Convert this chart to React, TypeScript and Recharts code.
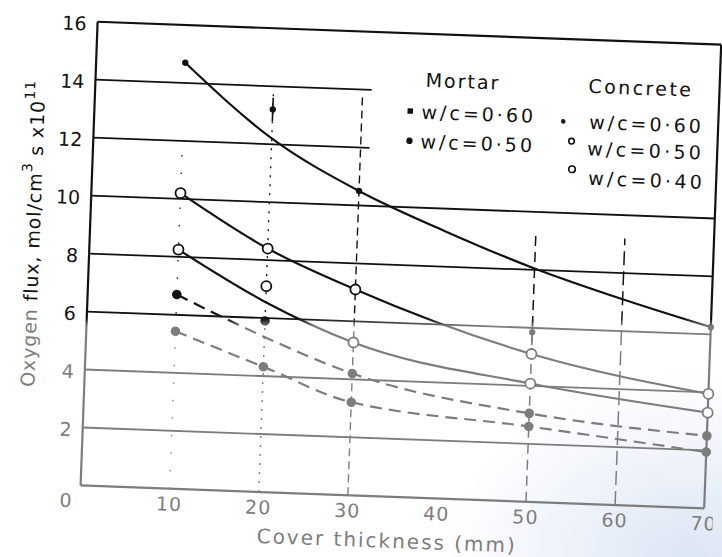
import React from 'react';
import { ComposedChart, Line, Scatter, XAxis, YAxis, ReferenceLine, ErrorBar } from 'recharts';

const INK = '#111111';
const GREY = '#7d7d7d';
const FONT = '"DejaVu Sans", Verdana, sans-serif';

// axes
const xTicks = [0, 10, 20, 30, 40, 50, 60, 70];
const yTicks = [2, 4, 6, 8, 10, 12, 14, 16];
const fullGrid = [2, 4, 6, 8, 10];
const shortGrid = [12, 14];

// Concrete w/c = 0.60 (solid curve, small filled dots)
const c60LineX = [10, 20, 30, 40, 50, 60, 70];
const c60LineY = [14.7, 12.2, 10.5, 9.2, 8.05, 7.1, 6.25];
const c60PtsX = [10, 20, 30, 50, 70];
const c60PtsY = [14.7, 13.2, 10.5, 5.85, 6.25];
const c60PtsErr = [0, 0.4, 0, 0.45, 0];

// Concrete w/c = 0.50 (solid curve, open circles)
const c50X = [10, 20, 30, 50, 70];
const c50Y = [10.2, 8.4, 7.1, 5.1, 3.95];

// Concrete w/c = 0.40 (solid curve, open circles)
const c40X = [10, 20, 30, 50, 70];
const c40LineY = [8.25, 6.55, 5.27, 4.08, 3.3];
const c40PtsY = [8.25, 7.1, 5.27, 4.08, 3.3];

// Mortar w/c = 0.60 (dashed curve, filled)
const m60X = [10, 20, 30, 50, 70];
const m60LineY = [6.7, 5.35, 4.2, 3.05, 2.5];
const m60PtsY = [6.7, 5.9, 4.2, 3.05, 2.5];

// Mortar w/c = 0.50 (dashed curve, filled)
const m50X = [10, 20, 30, 50, 70];
const m50Y = [5.43, 4.32, 3.21, 2.6, 1.94];

const pts = (xs: number[], ys: number[], es?: number[]) =>
  xs.map((x, i) => ({ x, y: ys[i], err: es ? es[i] : 0 }));

const FADE = 'url(#fade)';

const SmallDot = (p: any) => <circle cx={p.cx} cy={p.cy} r={3.2} fill={FADE} />;
const OpenDot = (p: any) => <circle cx={p.cx} cy={p.cy} r={5} fill="#fff" stroke={FADE} strokeWidth={1.8} />;
const FillDot = (p: any) => <circle cx={p.cx} cy={p.cy} r={4.8} fill={FADE} />;

const XTick = (p: any) => (
  <text
    x={p.x + (p.payload.value === 0 ? -14 : 0)}
    y={p.y}
    dy={14}
    textAnchor="middle"
    fill={GREY}
    fontSize={19}
    fontFamily={FONT}
    letterSpacing={1}
  >
    {p.payload.value}
  </text>
);

const YTick = (p: any) => (
  <text
    x={p.x - 3}
    y={p.y}
    dy={9}
    textAnchor="end"
    fill={p.payload.value <= 4 ? GREY : INK}
    fontSize={19}
    fontFamily={FONT}
  >
    {p.payload.value}
  </text>
);

const txt = { fontFamily: FONT, fontSize: 19, fill: INK };

export default function App() {
  return (
    <div
      style={{
        position: 'absolute',
        left: 0,
        top: 0,
        width: 722,
        height: 557,
        overflow: 'hidden',
        background:
          'radial-gradient(ellipse 250px 190px at 690px 560px, rgba(205,218,240,0.7), rgba(225,233,246,0.45) 60%, rgba(255,255,255,0) 100%), #fff',
      }}
    >
      <div
        style={{
          position: 'absolute',
          left: 0,
          top: 0,
          width: 722,
          height: 557,
          transform: 'rotate(2.1deg)',
          transformOrigin: '400px 262px',
        }}
      >
        <ComposedChart width={722} height={557} margin={{ top: 33, right: 9, bottom: 30, left: 29 }}>
          <defs>
            <linearGradient
              id="fade"
              gradientUnits="userSpaceOnUse"
              x1="0"
              y1="0"
              x2="0"
              y2="557"
              gradientTransform="rotate(-2.1 400 262)"
            >
              <stop offset="0" stopColor={INK} />
              <stop offset="0.572" stopColor={INK} />
              <stop offset="0.586" stopColor={GREY} />
              <stop offset="1" stopColor={GREY} />
            </linearGradient>
          </defs>
          <XAxis
            type="number"
            dataKey="x"
            domain={[0, 70]}
            ticks={xTicks}
            tick={XTick}
            tickLine={false}
            axisLine={{ stroke: GREY, strokeWidth: 2.2 }}
            height={30}
            allowDuplicatedCategory={false}
          />
          <YAxis
            type="number"
            domain={[0, 16]}
            ticks={yTicks}
            tick={YTick}
            tickLine={false}
            axisLine={{ stroke: FADE, strokeWidth: 2.2 }}
            width={60}
          />
          {fullGrid.map((v) => (
            <ReferenceLine key={'h' + v} y={v} stroke={FADE} strokeWidth={1.8} />
          ))}
          {shortGrid.map((v) => (
            <ReferenceLine
              key={'s' + v}
              segment={[
                { x: 0, y: v },
                { x: 31, y: v },
              ]}
              stroke={FADE}
              strokeWidth={1.8}
            />
          ))}
          <ReferenceLine y={16} stroke={INK} strokeWidth={2.2} />
          <ReferenceLine x={70} stroke={FADE} strokeWidth={2.2} />
          <ReferenceLine segment={[{ x: 10, y: 0 }, { x: 10, y: 11.6 }]} stroke={FADE} strokeWidth={1.3} strokeDasharray="1.5 16" />
          <ReferenceLine segment={[{ x: 20, y: 0 }, { x: 20, y: 13.8 }]} stroke={FADE} strokeWidth={1.4} strokeDasharray="2 7" />
          <ReferenceLine segment={[{ x: 30, y: 0 }, { x: 30, y: 13.8 }]} stroke={FADE} strokeWidth={1.4} strokeDasharray="8 5" />
          <ReferenceLine segment={[{ x: 50, y: 0 }, { x: 50, y: 9.2 }]} stroke={FADE} strokeWidth={1.5} strokeDasharray="10 6" />
          <ReferenceLine segment={[{ x: 60, y: 0 }, { x: 60, y: 9.2 }]} stroke={FADE} strokeWidth={1.5} strokeDasharray="14 6" />

          <Line data={pts(c60LineX, c60LineY)} dataKey="y" type="monotone" stroke={FADE} strokeWidth={2.2} dot={false} isAnimationActive={false} />
          <Line data={pts(c50X, c50Y)} dataKey="y" type="monotone" stroke={FADE} strokeWidth={2.2} dot={false} isAnimationActive={false} />
          <Line data={pts(c40X, c40LineY)} dataKey="y" type="monotone" stroke={FADE} strokeWidth={2.2} dot={false} isAnimationActive={false} />
          <Line data={pts(m60X, m60LineY)} dataKey="y" type="monotone" stroke={FADE} strokeWidth={2.2} strokeDasharray="12 7" dot={false} isAnimationActive={false} />
          <Line data={pts(m50X, m50Y)} dataKey="y" type="monotone" stroke={FADE} strokeWidth={2.2} strokeDasharray="12 7" dot={false} isAnimationActive={false} />

          <Scatter data={pts(c60PtsX, c60PtsY, c60PtsErr)} dataKey="y" shape={SmallDot} isAnimationActive={false}>
            <ErrorBar dataKey="err" direction="y" width={0} stroke={FADE} strokeWidth={1.6} />
          </Scatter>
          <Scatter data={pts(c50X, c50Y)} dataKey="y" shape={OpenDot} isAnimationActive={false} />
          <Scatter data={pts(c40X, c40PtsY)} dataKey="y" shape={OpenDot} isAnimationActive={false} />
          <Scatter data={pts(m60X, m60PtsY)} dataKey="y" shape={FillDot} isAnimationActive={false} />
          <Scatter data={pts(m50X, m50Y)} dataKey="y" shape={FillDot} isAnimationActive={false} />

          {/* legend */}
          <g>
            <text x={419} y={86} {...txt} letterSpacing={2}>Mortar</text>
            <rect x={402} y={108} width={5.5} height={5.5} fill={INK} />
            <text x={416} y={118} {...txt} letterSpacing={3}>w/c=0·60</text>
            <circle cx={405} cy={140.5} r={3.2} fill={INK} />
            <text x={416} y={147.5} {...txt} letterSpacing={3}>w/c=0·50</text>

            <text x={582} y={86} {...txt} letterSpacing={2.4}>Concrete</text>
            <circle cx={558} cy={115.5} r={2.3} fill={INK} />
            <text x={584} y={122} {...txt} letterSpacing={3}>w/c=0·60</text>
            <circle cx={567} cy={135} r={2.8} fill="#fff" stroke={INK} strokeWidth={1.6} />
            <text x={583} y={148.5} {...txt} letterSpacing={3.3}>w/c=0·50</text>
            <circle cx={568.5} cy={163} r={3.3} fill="#fff" stroke={INK} strokeWidth={1.6} />
            <text x={585} y={178} {...txt} letterSpacing={3.3}>w/c=0·40</text>
          </g>

          {/* axis titles */}
          <text x={397} y={548} textAnchor="middle" fontFamily={FONT} fontSize={20} letterSpacing={2} fill={GREY}>
            Cover thickness (mm)
          </text>
          <text
            x={32}
            y={247}
            transform="rotate(-90 32 247)"
            textAnchor="middle"
            dominantBaseline="central"
            fontFamily={FONT}
            fontSize={19}
            letterSpacing={0.9}
            fill={INK}
          >
            <tspan fill={GREY}>Oxygen </tspan>
            <tspan>flux, mol/cm</tspan>
            <tspan fontSize={14} dy={-8}>3</tspan>
            <tspan dy={8}> s x10</tspan>
            <tspan fontSize={14} dy={-8}>11</tspan>
          </text>
        </ComposedChart>
      </div>
    </div>
  );
}
